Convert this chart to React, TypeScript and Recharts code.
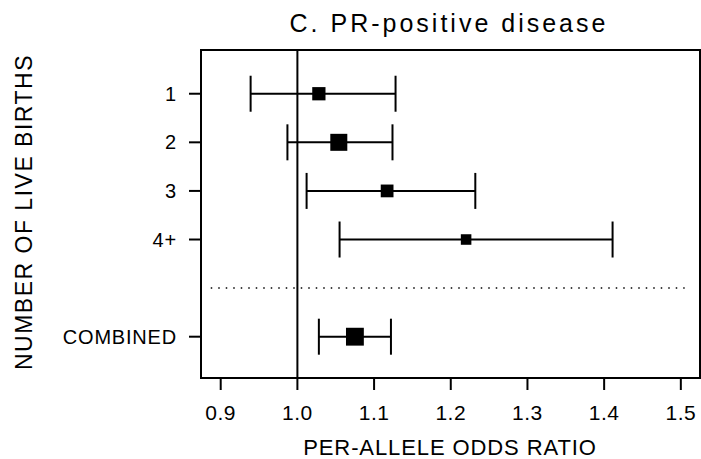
import React from "react";
import {
  ScatterChart,
  Scatter,
  XAxis,
  YAxis,
  ErrorBar,
  ReferenceLine,
  ReferenceArea,
} from "recharts";

// ---- data ----
const categories = ["1", "2", "3", "4+", "COMBINED"];
const rowPositions = [1, 2, 3, 4, 6];
const oddsRatio = [1.028, 1.054, 1.117, 1.22, 1.075];
const lowerCI = [0.939, 0.987, 1.012, 1.055, 1.028];
const upperCI = [1.128, 1.124, 1.232, 1.411, 1.122];
const weights = [0.78, 1.0, 0.75, 0.62, 1.05]; // relative study weight (square size)
const xTicks = [0.9, 1.0, 1.1, 1.2, 1.3, 1.4, 1.5];
const separatorRow = 5;
const xDomain: [number, number] = [0.8743, 1.525];
const yDomain: [number, number] = [0.1, 6.85];

const data = categories.map((c, i) => ({
  label: c,
  x: oddsRatio[i],
  y: rowPositions[i],
  w: weights[i],
  err: [oddsRatio[i] - lowerCI[i], upperCI[i] - oddsRatio[i]],
}));

const FONT = "'Liberation Sans', Arial, Helvetica, sans-serif";

const Square = (props: any) => {
  const { cx, cy, payload } = props;
  if (cx == null || cy == null) return null;
  const s = 17 * payload.w;
  return <rect x={cx - s / 2} y={cy - s / 2} width={s} height={s} fill="#000" />;
};

const yLabel = (v: number) => {
  const i = rowPositions.indexOf(v);
  return i >= 0 ? categories[i] : "";
};

export default function App() {
  return (
    <div style={{ position: "absolute", left: 0, top: 0, background: "#fff" }}>
      <ScatterChart
        width={701}
        height={459}
        margin={{ top: 50, right: 1, bottom: 0, left: 0 }}
      >
        <XAxis
          type="number"
          dataKey="x"
          domain={xDomain}
          allowDataOverflow
          ticks={xTicks}
          tickFormatter={(v: number) => v.toFixed(1)}
          tickSize={12}
          tickMargin={15}
          height={81}
          axisLine={{ stroke: "#000", strokeWidth: 2 }}
          tickLine={{ stroke: "#000", strokeWidth: 2 }}
          tick={{ fontSize: 21, fill: "#000", fontFamily: FONT, letterSpacing: 0.5 }}
          label={(p: any) => (
            <text
              x={450}
              y={455}
              textAnchor="middle"
              fontSize={22}
              fontFamily={FONT}
              letterSpacing={0.9}
              fill="#000"
            >
              PER-ALLELE ODDS RATIO
            </text>
          )}
        />
        <YAxis
          type="number"
          dataKey="y"
          domain={yDomain}
          reversed
          allowDataOverflow
          ticks={rowPositions}
          tickFormatter={yLabel}
          width={201}
          tickSize={12}
          tickMargin={12}
          axisLine={{ stroke: "#000", strokeWidth: 2 }}
          tickLine={{ stroke: "#000", strokeWidth: 2 }}
          tick={{ fontSize: 20, fill: "#000", fontFamily: FONT, letterSpacing: 0.8 }}
          label={(p: any) => (
            <text
              x={24}
              y={212}
              transform="rotate(-90 24 212)"
              textAnchor="middle"
              dominantBaseline="central"
              fontSize={23}
              fontFamily={FONT}
              letterSpacing={1.5}
              fill="#000"
            >
              NUMBER OF LIVE BIRTHS
            </text>
          )}
        />
        <ReferenceArea
          x1={xDomain[0]}
          x2={xDomain[1]}
          y1={yDomain[0]}
          y2={yDomain[1]}
          fill="none"
          stroke="#000"
          strokeWidth={2}
          ifOverflow="visible"
          label={(p: any) => (
            <text
              x={449}
              y={32}
              textAnchor="middle"
              fontSize={25}
              fontFamily={FONT}
              letterSpacing={3}
              fill="#000"
            >
              C. PR-positive disease
            </text>
          )}
        />
        <ReferenceLine x={1} stroke="#000" strokeWidth={2} />
        <ReferenceLine
          segment={[
            { x: 0.887, y: separatorRow },
            { x: 1.505, y: separatorRow },
          ]}
          stroke="#000"
          strokeWidth={1.5}
          strokeDasharray="1.5 6"
        />
        <Scatter data={data} shape={Square} isAnimationActive={false}>
          <ErrorBar
            dataKey="err"
            direction="x"
            width={18}
            stroke="#000"
            strokeWidth={2}
            isAnimationActive={false}
          />
        </Scatter>
      </ScatterChart>
    </div>
  );
}
